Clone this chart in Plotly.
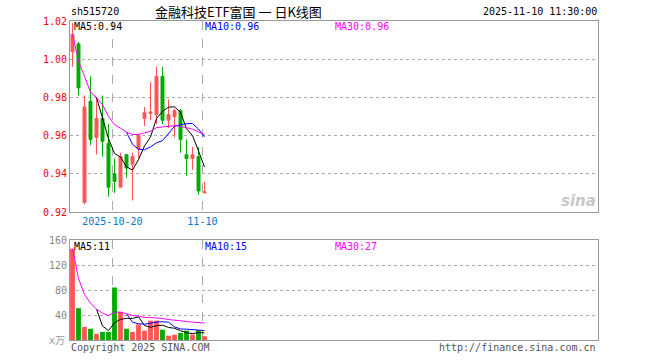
import plotly.graph_objects as go
import pandas as pd

# ---------------- data ----------------
dates = ["2025-10-09", "2025-10-10", "2025-10-13", "2025-10-14", "2025-10-15",
         "2025-10-16", "2025-10-17", "2025-10-20", "2025-10-21", "2025-10-22",
         "2025-10-23", "2025-10-24", "2025-10-27", "2025-10-28", "2025-10-29",
         "2025-10-30", "2025-10-31", "2025-11-03", "2025-11-04", "2025-11-05",
         "2025-11-06", "2025-11-07", "2025-11-10"]
open_ = [1.004, 1.008, 0.925, 0.978, 0.959, 0.969, 0.956, 0.940, 0.933, 0.950,
         0.945, 0.953, 0.969, 0.9716, 0.971, 0.991, 0.968, 0.970, 0.973, 0.950,
         0.948, 0.949, 0.930]
high = [1.019, 1.009, 0.981, 0.991, 0.980, 0.981, 0.966, 0.948, 0.951, 0.950,
        0.951, 0.961, 0.975, 0.988, 0.996, 0.996, 0.979, 0.974, 0.974, 0.958,
        0.954, 0.954, 0.936]
low = [0.996, 0.981, 0.924, 0.955, 0.950, 0.949, 0.928, 0.930, 0.933, 0.938,
       0.926, 0.948, 0.965, 0.968, 0.966, 0.966, 0.964, 0.959, 0.951, 0.939,
       0.942, 0.929, 0.930]
close = [1.013, 0.985, 0.975, 0.958, 0.969, 0.957, 0.933, 0.936, 0.949, 0.943,
         0.949, 0.960, 0.972, 0.9724, 0.991, 0.968, 0.971, 0.973, 0.958, 0.948,
         0.950, 0.931, 0.9305]
volume = [146, 51, 21, 18, 10, 13, 13, 84, 45, 18, 13, 25, 15, 31, 31, 16.5,
          7, 8.5, 11.5, 15, 8.5, 16, 6]  # 万

tick_dates = ["2025-10-20", "2025-11-10"]
tick_labels = ["2025-10-20", "11-10"]

price_ticks = [0.92, 0.94, 0.96, 0.98, 1.00, 1.02]
vol_ticks = [0, 40, 80, 120, 160]

# ---------------- derived ----------------
RED = "#ff5555"
GREEN = "#00aa00"
x = list(range(len(dates)))
df = pd.DataFrame({"o": open_, "h": high, "l": low, "c": close, "v": volume})
ma5 = df["c"].rolling(5).mean()
ma10 = df["c"].rolling(10).mean()
ma30 = df["c"].rolling(30, min_periods=1).mean()
vma5 = df["v"].rolling(5).mean()
vma10 = df["v"].rolling(10).mean()
vma30 = df["v"].rolling(30, min_periods=1).mean()
bar_colors = [RED if c >= o else GREEN for o, c in zip(open_, close)]
tick_pos = [dates.index(d) - 0.35 for d in tick_dates]

W, H = 660, 360
L, R, T, B = 70, 62, 21, 20
PW, PH = W - L - R, H - T - B


def px(xp):
    return (xp - L) / PW


def py(yp):
    return (H - B - yp) / PH


MONO = "DejaVu Sans Mono, Noto Sans CJK SC, monospace"

fig = go.Figure()
fig.add_trace(go.Candlestick(
    x=x, open=open_, high=high, low=low, close=close,
    increasing=dict(line=dict(color=RED, width=1), fillcolor=RED),
    decreasing=dict(line=dict(color=GREEN, width=1), fillcolor=GREEN),
    whiskerwidth=0, showlegend=False, hoverinfo="skip",
    xaxis="x", yaxis="y"))
for s, col in [(ma5, "#000000"), (ma10, "#0000ff"), (ma30, "#ff00ff")]:
    fig.add_trace(go.Scatter(x=x, y=s, mode="lines", line=dict(color=col, width=1),
                             showlegend=False, hoverinfo="skip", xaxis="x", yaxis="y"))

fig.add_trace(go.Bar(x=x, y=volume, marker=dict(color=bar_colors, line=dict(width=0)),
                     width=0.8, showlegend=False, hoverinfo="skip",
                     xaxis="x2", yaxis="y2"))
for s, col in [(vma5, "#000000"), (vma10, "#0000ff"), (vma30, "#ff00ff")]:
    fig.add_trace(go.Scatter(x=x, y=s, mode="lines", line=dict(color=col, width=1),
                             showlegend=False, hoverinfo="skip", xaxis="x2", yaxis="y2"))

xr = [-0.417, 87.583]
price_dom = [py(212), 1.0]
vol_dom = [0.0, py(240)]

common_x = dict(range=xr, showgrid=True, gridcolor="#aaaaaa", griddash="dash",
                gridwidth=1, tickmode="array", tickvals=tick_pos, zeroline=False,
                showline=True, linecolor="#999999", linewidth=1, mirror=True,
                ticks="", fixedrange=True)

fig.update_layout(
    width=W, height=H,
    margin=dict(l=L, r=R, t=T, b=B),
    paper_bgcolor="white", plot_bgcolor="white",
    font=dict(family=MONO, size=10, color="#000000"),
    xaxis=dict(**common_x, anchor="y", ticktext=tick_labels,
               tickfont=dict(family=MONO, size=10, color="#0077cc"),
               rangeslider=dict(visible=False)),
    xaxis2=dict(**common_x, anchor="y2", showticklabels=False, matches="x"),
    yaxis=dict(domain=price_dom, range=[0.92, 1.02], tickmode="array",
               tickvals=price_ticks, ticktext=[f"{v:.2f}" for v in price_ticks],
               tickfont=dict(family=MONO, size=10, color="#ff0000"),
               showgrid=True, gridcolor="#aaaaaa", griddash="dot", gridwidth=1,
               showline=True, linecolor="#999999", linewidth=1, mirror=True,
               zeroline=False, ticks="", fixedrange=True),
    yaxis2=dict(domain=vol_dom, range=[0, 160], tickmode="array",
                tickvals=vol_ticks, ticktext=[""] + [str(v) for v in vol_ticks[1:]],
                tickfont=dict(family=MONO, size=10, color="#888888"),
                showgrid=True, gridcolor="#aaaaaa", griddash="dot", gridwidth=1,
                showline=True, linecolor="#999999", linewidth=1, mirror=True,
                zeroline=False, ticks="", fixedrange=True),
    boxgap=0.3,
)


def ann(text, xp, yp, color="#000000", size=10, xanchor="left", family=MONO, **kw):
    fig.add_annotation(text=text, x=px(xp), y=py(yp), xref="paper", yref="paper",
                       showarrow=False, xanchor=xanchor, yanchor="middle",
                       font=dict(family=family, size=size, color=color), **kw)


# header
ann("sh515720", 69, 12)
ann("金融科技ETF富国 一 日K线图", 238, 11, size=13, xanchor="center",
    family="Noto Sans CJK SC, DejaVu Sans Mono")
ann("2025-11-10 11:30:00", 599, 12, xanchor="right")

# price MA labels
last = len(close) - 1
ann(f"MA5:{ma5[last]:.2f}", 72, 27, "#000000")
ann(f"MA10:{ma10[last]:.2f}", 203, 27, "#0000ff")
ann(f"MA30:{ma30[last]:.2f}", 333, 27, "#ff00ff")

# volume MA labels
ann(f"MA5:{vma5[last]:.0f}", 72, 246, "#000000")
ann(f"MA10:{vma10[last]:.0f}", 203, 246, "#0000ff")
ann(f"MA30:{vma30[last]:.0f}", 333, 246, "#ff00ff")

# footer
ann("x万", 67, 341, "#999999", xanchor="right")
ann("Copyright 2025 SINA.COM", 69, 347, "#555555")
ann("http://finance.sina.com.cn", 598, 347, "#555555", xanchor="right")

# sina watermark
ann("<b><i>sina</i></b>", 598, 201, "#c8c8c8", size=15, xanchor="right",
    family="DejaVu Sans, sans-serif")

fig.write_html("out.html")
